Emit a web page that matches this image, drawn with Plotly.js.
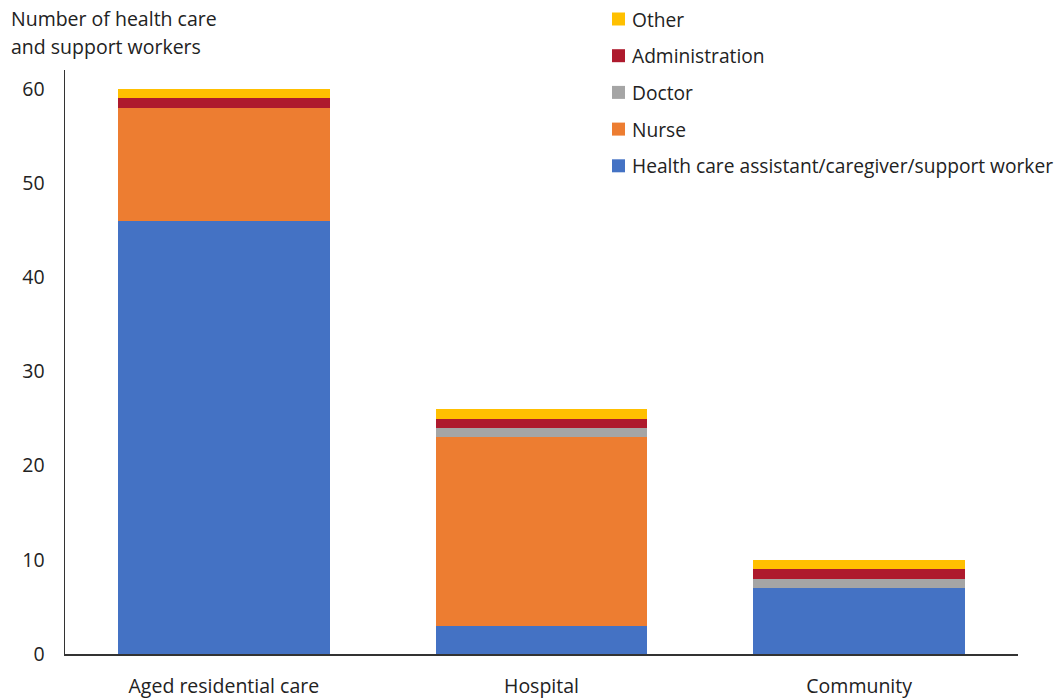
<!DOCTYPE html>
<html>
<head>
<meta charset="utf-8">
<script src="https://cdn.plot.ly/plotly-3.0.1.min.js"></script>
<style>html,body{margin:0;padding:0;background:#fff;}#chart{width:1062px;height:700px;}</style>
</head>
<body>
<div id="chart"></div>
<script>
const categories = ["Aged residential care", "Hospital", "Community"];
const hcaValues = [46, 3, 7];
const nurseValues = [12, 20, 0];
const doctorValues = [0, 1, 1];
const adminValues = [1, 1, 1];
const otherValues = [1, 1, 1];
const seriesNames = ["Health care assistant/caregiver/support worker", "Nurse", "Doctor", "Administration", "Other"];
const seriesColors = ["#4472C4", "#ED7D31", "#A5A5A5", "#AE1A2D", "#FFC000"];
const seriesValues = [hcaValues, nurseValues, doctorValues, adminValues, otherValues];
const yTicks = [0, 10, 20, 30, 40, 50, 60];
const titleLines = ["Number of health care", "and support workers"];

const FONT = "'Open Sans', 'Noto Sans', sans-serif";
const FS = 19.5;
const LFS = 19.2;
const TXT = "#222";

const W = 1062, H = 700;
const M = {l: 65, r: 44, t: 70, b: 46};
const PW = W - M.l - M.r, PH = H - M.t - M.b;
const px2x = px => (px - M.l) / PW;
const py2y = py => (H - M.b - py) / PH;

const traces = seriesValues.map((vals, i) => ({
  type: "bar",
  name: seriesNames[i],
  x: categories,
  y: vals,
  showlegend: false,
  marker: {color: seriesColors[i], line: {width: 0}},
  hoverinfo: "skip"
}));

// Legend drawn as shapes + annotations (top entry = last series)
const shapes = [];
const annotations = [];
const LEG_SQ_X = 612, LEG_SQ = 13, LEG_TXT_X = 630, LEG_TOP = 19, LEG_STEP = 36.7;
const nS = seriesNames.length;
for (let k = 0; k < nS; k++) {
  const i = nS - 1 - k;
  const cy = LEG_TOP + k * LEG_STEP;
  shapes.push({
    type: "rect", xref: "paper", yref: "paper",
    x0: px2x(LEG_SQ_X), x1: px2x(LEG_SQ_X + LEG_SQ),
    y0: py2y(cy + LEG_SQ / 2), y1: py2y(cy - LEG_SQ / 2),
    fillcolor: seriesColors[i], line: {width: 0}
  });
  annotations.push({
    xref: "paper", yref: "paper",
    x: px2x(LEG_TXT_X), y: py2y(cy), xanchor: "left", yanchor: "middle",
    text: seriesNames[i], showarrow: false,
    font: {family: FONT, size: LFS, color: TXT}
  });
}
titleLines.forEach((t, j) => {
  annotations.push({
    xref: "paper", yref: "paper",
    x: px2x(9), y: py2y(18 + 28 * j), xanchor: "left", yanchor: "middle",
    text: t, showarrow: false, align: "left",
    font: {family: FONT, size: FS, color: TXT}
  });
});

const layout = {
  width: W,
  height: H,
  margin: M,
  barmode: "stack",
  bargap: 0.333,
  paper_bgcolor: "#fff",
  plot_bgcolor: "#fff",
  font: {family: FONT, size: FS, color: TXT},
  showlegend: false,
  xaxis: {
    type: "category",
    showline: true, linecolor: "#333", linewidth: 1.5,
    ticks: "", showgrid: false, zeroline: false,
    tickfont: {family: FONT, size: FS, color: TXT},
    ticklabelstandoff: 14
  },
  yaxis: {
    range: [0, 62],
    tickvals: yTicks,
    ticktext: yTicks.map(String),
    showline: true, linecolor: "#333", linewidth: 1.5,
    ticks: "", showgrid: false, zeroline: false,
    tickfont: {family: FONT, size: FS, color: TXT},
    ticklabelstandoff: 15
  },
  shapes: shapes,
  annotations: annotations
};

Plotly.newPlot("chart", traces, layout, {staticPlot: true, displayModeBar: false});
</script>
</body>
</html>
